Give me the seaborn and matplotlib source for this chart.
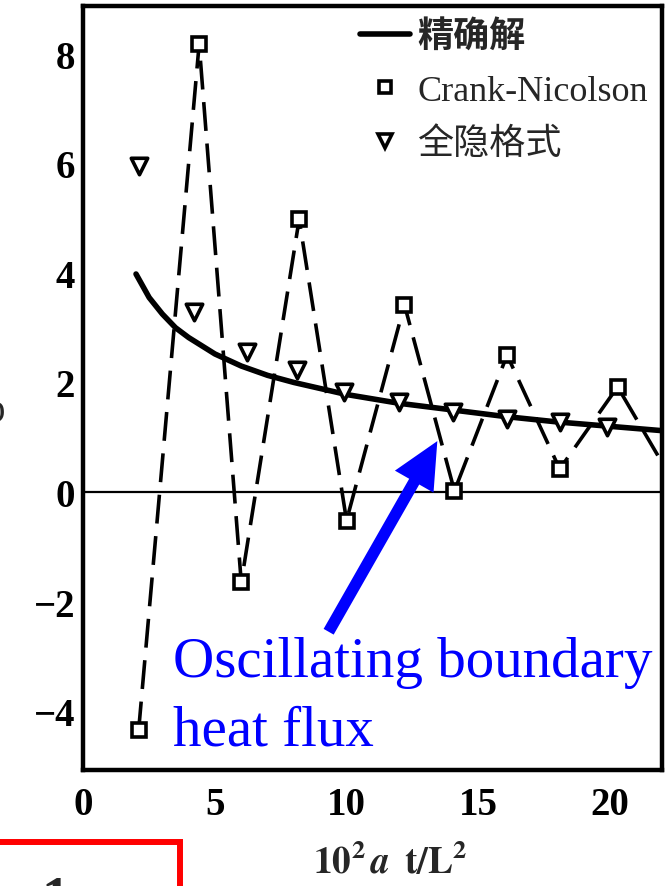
import matplotlib
matplotlib.use('Agg')
from matplotlib import pyplot as plt
from matplotlib.lines import Line2D
from matplotlib.patches import Rectangle
import seaborn as sn

# valores (eixo x: 10^2 a t / L^2)
exact_t = [2.0, 2.5, 3.0, 3.5, 4.0, 5.0, 6.0, 7.0, 8.0, 10.0, 12.0, 14.0, 16.0, 18.0, 20.0, 22.0]
exact_q = [3.98, 3.55, 3.25, 3.0, 2.82, 2.52, 2.3, 2.13, 2.0, 1.78, 1.62, 1.5, 1.38, 1.28, 1.2, 1.12]

cn_t = [2.1, 4.4, 6.0, 8.2, 10.0, 12.2, 14.1, 16.1, 18.1, 20.3, 22.4]
cn_q = [-4.35, 8.18, -1.65, 4.98, -0.52, 3.42, 0.02, 2.5, 0.42, 1.92, 0.2]

imp_t = [2.1, 4.2, 6.2, 8.1, 9.9, 12.0, 14.05, 16.1, 18.1, 19.9]
imp_q = [5.95, 3.29, 2.56, 2.22, 1.83, 1.64, 1.47, 1.33, 1.28, 1.19]

legend_labels = ['精确解', 'Crank-Nicolson', '全隐格式']
xticks = [0, 5, 10, 15, 20]
yticks = [-4, -2, 0, 2, 4, 6, 8]

sn.set_style('white')
plt.rcParams['font.family'] = ['Liberation Serif', 'Noto Sans CJK SC']
plt.rcParams['mathtext.fontset'] = 'stix'

fig = plt.figure(figsize=(6.67, 8.87), dpi=100)
ax = fig.add_axes([0.125, 0.131, 0.868, 0.861])

ax.axhline(0, color='black', lw=1.6, zorder=1)

# solucao exata
sn.lineplot(x=exact_t, y=exact_q, color='black', lw=4, ax=ax, zorder=2)

# Crank-Nicolson (tracejado com quadrados)
sn.lineplot(x=cn_t, y=cn_q, color='black', lw=2.6, linestyle=(0, (8, 3.5)),
            marker='s', markersize=10, markerfacecolor='white',
            markeredgecolor='black', markeredgewidth=2.6, ax=ax, zorder=3)

# totalmente implicito (triangulos)
sn.scatterplot(x=imp_t, y=imp_q, marker='v', s=140, color='white',
               edgecolor='black', linewidth=2.6, ax=ax, zorder=4)

ax.set_xlim(0, 22)
ax.set_ylim(-5.07, 8.87)
ax.set_xticks(xticks)
ax.set_yticks(yticks)
ax.tick_params(direction='in', length=12, width=2.8, labelsize=28, colors='black')
ax.tick_params(axis='x', pad=12)
ax.tick_params(axis='y', pad=6)
for lab in ax.get_xticklabels() + ax.get_yticklabels():
    lab.set_fontweight('bold')
for s in ax.spines.values():
    s.set_linewidth(3.2)
    s.set_color('black')

ax.set_xlabel(r'$\mathbf{10^2}\,\boldsymbol{a}\;\;\mathbf{t/L^2}$', fontsize=27)
ax.xaxis.set_label_coords(0.53, -0.095)

handles = [
    Line2D([], [], color='black', lw=4),
    Line2D([], [], marker='s', ls='none', mfc='white', mec='black', mew=2.6, ms=9),
    Line2D([], [], marker='v', ls='none', mfc='white', mec='black', mew=2.6, ms=10),
]
leg = ax.legend(handles, legend_labels, loc='upper right', frameon=False, fontsize=26,
                handlelength=1.4, handletextpad=0.2, labelspacing=0.55,
                borderaxespad=0.2, borderpad=0.2)
leg.get_texts()[0].set_fontweight('bold')

# anotacao em azul
ax.annotate('', xy=(13.45, 0.93), xytext=(9.32, -2.55),
            arrowprops=dict(arrowstyle='simple,head_length=1.05,head_width=1.0,tail_width=0.26',
                            fc='blue', ec='none', mutation_scale=32, shrinkA=0, shrinkB=0))
ax.text(3.4, -3.36, 'Oscillating boundary', color='blue', fontsize=41, va='baseline', ha='left')
ax.text(3.4, -4.6, 'heat flux', color='blue', fontsize=41, va='baseline', ha='left')

# restos cortados na borda da imagem
fig.text(0.008, 0.535, 'φ', ha='right', va='center', fontsize=28)
fig.patches.append(Rectangle((-0.02, -0.1), 0.29, 0.1495, transform=fig.transFigure,
                             fill=False, ec='red', lw=4.3))
fig.text(0.062, 0.012, '1', ha='left', va='top', fontsize=40, fontweight='bold')

fig.savefig('out.png', dpi=100)
